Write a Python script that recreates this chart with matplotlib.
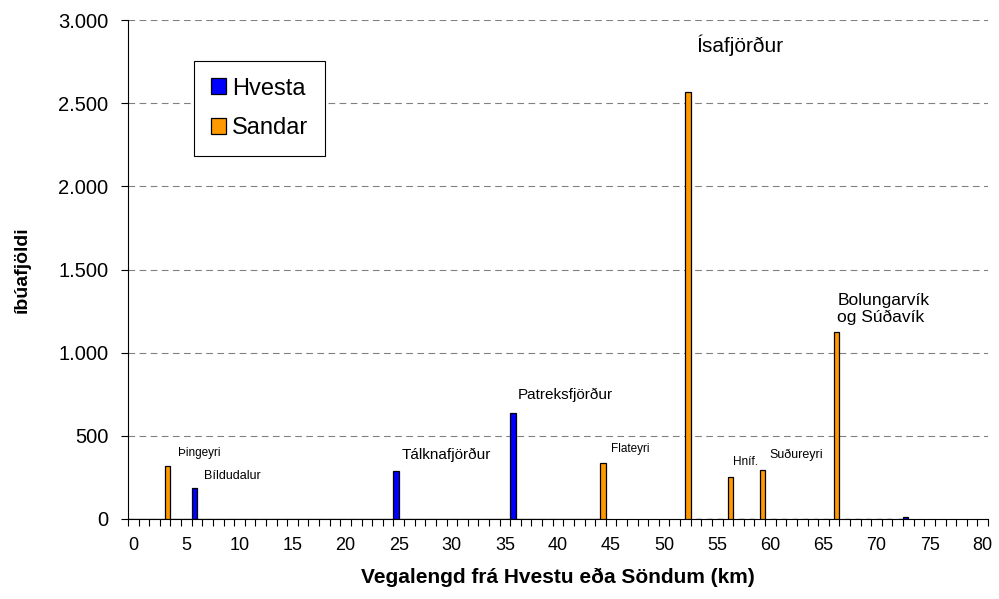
import numpy as np
import matplotlib
matplotlib.use('Agg')
import matplotlib.pyplot as plt
from matplotlib.ticker import FuncFormatter, MultipleLocator

plt.rcParams['font.family'] = ['Liberation Sans', 'DejaVu Sans']

# fjarlægð (km) 0..80
km = np.arange(81)

# íbúafjöldi eftir fjarlægð frá Hvestu (blátt) og Söndum (appelsínugult)
hvesta = np.full(81, np.nan)
hvesta[0:45] = 0
hvesta[6] = 188
hvesta[25] = 290
hvesta[36] = 637
hvesta[73] = 12

sandar = np.full(81, np.nan)
sandar[0:45] = 0
sandar[53:73] = 0
sandar[3] = 316
sandar[44] = 334
sandar[52] = 2570
sandar[56] = 251
sandar[59] = 295
sandar[66] = 1124

# merkingar staða
labels = ['Þingeyri', 'Bíldudalur', 'Tálknafjörður', 'Patreksfjörður', 'Flateyri',
          'Ísafjörður', 'Hníf.', 'Suðureyri', 'Bolungarvík\nog Súðavík']
label_x = [4.2, 6.7, 25.3, 36.2, 45.0, 53.0, 56.5, 59.9, 66.3]
label_y = [397, 258, 385, 745, 420, 2850, 343, 385, 1262]
label_size = [8.5, 9, 11, 11, 8.5, 15, 8.5, 9, 12.5]

fig = plt.figure(figsize=(9.99, 5.99), dpi=100)
ax = fig.add_axes([128/999, 1-519/599, 860/999, 499/599])

ax.bar(km - 0.25, hvesta, width=0.5, color='#0000ff', edgecolor='black', linewidth=0.9,
       label='Hvesta', zorder=3)
ax.bar(km + 0.25, sandar, width=0.5, color='#ff9900', edgecolor='black', linewidth=0.9,
       label='Sandar', zorder=3)

for t, x, y, s in zip(labels, label_x, label_y, label_size):
    ax.text(x, y, t, fontsize=s, ha='left', va='center', linespacing=1.1)

ax.set_xlim(-0.5, 80.5)
ax.set_ylim(0, 3000)
ax.yaxis.set_major_locator(MultipleLocator(500))
ax.yaxis.set_major_formatter(FuncFormatter(lambda v, p: f'{int(v):,}'.replace(',', '.')))
ax.set_xticks(np.arange(0, 81, 5))
ax.set_xticks(np.arange(-0.5, 81, 1), minor=True)
ax.tick_params(axis='x', which='major', length=0, labelsize=13, pad=13)
ax.tick_params(axis='x', which='minor', length=5, direction='out', width=0.8)
ax.tick_params(axis='y', labelsize=14.5, length=5, width=0.8, pad=9)

ax.grid(axis='y', color='#808080', linestyle=(0, (6, 4)), linewidth=0.8, zorder=0)
for sp in ['top', 'right']:
    ax.spines[sp].set_visible(False)

ax.set_xlabel('Vegalengd frá Hvestu eða Söndum (km)', fontsize=15, fontweight='bold', labelpad=10)
ax.set_ylabel('íbúafjöldi', fontsize=14, fontweight='bold', labelpad=20)

leg = ax.legend(loc='upper left', bbox_to_anchor=(194/999, 1-61/599), bbox_transform=fig.transFigure,
                fontsize=17, fancybox=False, framealpha=1, edgecolor='black',
                handlelength=0.65, handleheight=0.65, handletextpad=0.25, borderpad=0.7,
                labelspacing=0.75, borderaxespad=0)
leg.get_frame().set_linewidth(0.8)

fig.savefig('out.png', dpi=100)
